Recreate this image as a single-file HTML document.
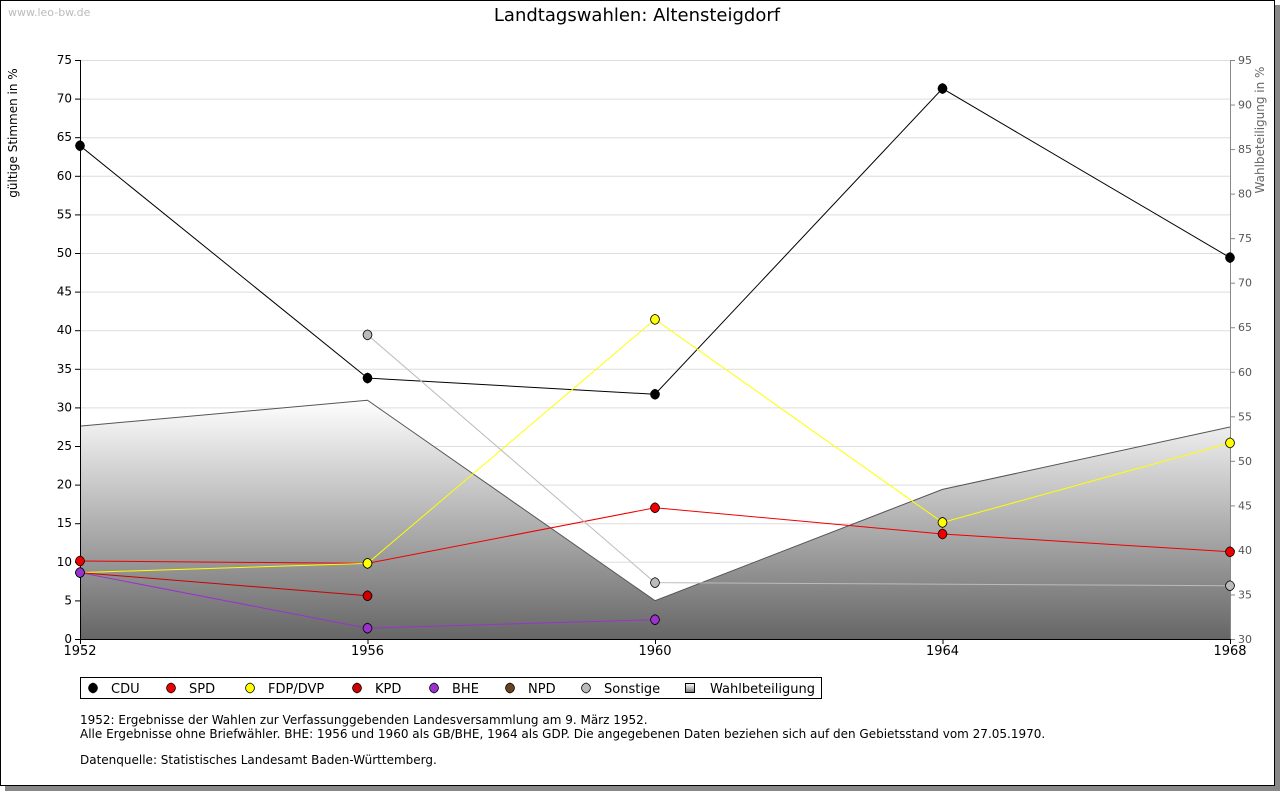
<!DOCTYPE html>
<html><head><meta charset="utf-8"><style>
body{margin:0;background:#fff;font-family:"DejaVu Sans","Liberation Sans",sans-serif;}
svg text{font-family:"DejaVu Sans","Liberation Sans",sans-serif;}
</style></head><body>
<svg id="c" width="1280" height="791" xmlns="http://www.w3.org/2000/svg">
<defs><linearGradient id="g" x1="0" y1="0" x2="0" y2="1"><stop offset="0" stop-color="#ffffff"/><stop offset="1" stop-color="#666"/></linearGradient>
<linearGradient id="lg" x1="0" y1="0" x2="0" y2="1"><stop offset="0" stop-color="#fff"/><stop offset="1" stop-color="#777"/></linearGradient></defs>
<rect x="5" y="5" width="1275" height="786" fill="#888"/>
<rect x="0.5" y="0.5" width="1274" height="785" fill="#fff" stroke="#000"/>
<text x="8" y="16" font-size="11" fill="#bbb">www.leo-bw.de</text>
<text x="637" y="21" font-size="18" text-anchor="middle">Landtagswahlen: Altensteigdorf</text>
<text transform="translate(17,133) rotate(-90)" font-size="12" text-anchor="middle">gültige Stimmen in %</text>
<text transform="translate(1264,130) rotate(-90)" font-size="12" fill="#666" text-anchor="middle">Wahlbeteiligung in %</text>
<g id="plot"></g>
<rect x="80.5" y="677.5" width="741" height="21" fill="#fff" stroke="#000"/>
<g id="legend"></g>
<text x="80" y="724" font-size="12">1952: Ergebnisse der Wahlen zur Verfassunggebenden Landesversammlung am 9. März 1952.</text>
<text x="80" y="738" font-size="12">Alle Ergebnisse ohne Briefwähler. BHE: 1956 und 1960 als GB/BHE, 1964 als GDP. Die angegebenen Daten beziehen sich auf den Gebietsstand vom 27.05.1970.</text>
<text x="80" y="764" font-size="12">Datenquelle: Statistisches Landesamt Baden-Württemberg.</text>
</svg>
<script>
const years=[1952,1956,1960,1964,1968];
const leftTicks=[0,5,10,15,20,25,30,35,40,45,50,55,60,65,70,75];
const rightTicks=[30,35,40,45,50,55,60,65,70,75,80,85,90,95];
const turnout=[53.9,56.8,34.3,46.8,53.8];
const cdu=[63.9,33.8,31.7,71.3,49.4];
const spd=[10.1,9.8,17.0,13.6,11.3];
const fdp=[8.6,9.8,41.4,15.1,25.4];
const kpd=[8.6,5.6,null,null,null];
const bhe=[8.6,1.4,2.5,null,null];
const npd=[null,null,null,null,null];
const sonst=[null,39.4,7.3,null,6.9];
const series=[["CDU",cdu,"#000"],["SPD",spd,"#e00"],["FDP/DVP",fdp,"#ff0"],["KPD",kpd,"#c00"],["BHE",bhe,"#93c"],["NPD",npd,"#642"],["Sonstige",sonst,"#bbb"]];
const X0=80,X1=1230,Y0=639,Y1=60;
const x=y=>X0+(y-1952)/(1968-1952)*(X1-X0);
const yl=v=>Y0-v/75*(Y0-Y1);
const yr=v=>Y0-(v-30)/65*(Y0-Y1);
const NS="http://www.w3.org/2000/svg";
const plot=document.getElementById('plot');
function mk(t,a,p){const e=document.createElementNS(NS,t);for(const k in a)e.setAttribute(k,a[k]);(p||plot).appendChild(e);return e;}
function marker(cx,cy,c,p){return mk('path',{d:`M${cx},${cy-5} Q${cx+4},${cy-4} ${cx+4.5},${cy} Q${cx+4},${cy+4} ${cx},${cy+5} Q${cx-4},${cy+4} ${cx-4.5},${cy} Q${cx-4},${cy-4} ${cx},${cy-5}Z`,fill:c,stroke:'#000','stroke-width':.8},p);}
leftTicks.forEach(v=>{
 const l=mk('line',{x1:X0,x2:X1,y1:yl(v)+.5,y2:yl(v)+.5,stroke:'#ddd'});
 
 
 mk('line',{x1:X0-5,x2:X0,y1:yl(v)+.5,y2:yl(v)+.5,stroke:'#000'});
 const t=mk('text',{x:X0-8,y:yl(v)+4,'font-size':12,'text-anchor':'end'});t.textContent=v;
 
 
});
rightTicks.forEach(v=>{
 mk('line',{x1:X1,x2:X1+5,y1:yr(v)+.5,y2:yr(v)+.5,stroke:'#888'});
 const t=mk('text',{x:X1+8,y:yr(v)+4,'font-size':11,fill:'#555'});t.textContent=v;
 
 
});
let d='M'+X0+','+Y0;years.forEach((y,i)=>d+=' L'+x(y)+','+yr(turnout[i]));d+=' L'+X1+','+Y0+'Z';
const area=mk('path',{d:d,fill:'url(#g)',stroke:'none'});


let dl='';years.forEach((y,i)=>dl+=(i?' L':'M')+x(y)+','+yr(turnout[i]));
mk('path',{d:dl,fill:'none',stroke:'#555'});
mk('line',{x1:X0+.5,x2:X0+.5,y1:Y1,y2:Y0+5,stroke:'#000'});
mk('line',{x1:X1+.5,x2:X1+.5,y1:Y1,y2:Y0,stroke:'#888'});
mk('line',{x1:X0,x2:X1,y1:Y0+.5,y2:Y0+.5,stroke:'#000'});
years.forEach(y=>{mk('line',{x1:x(y)+.5,x2:x(y)+.5,y1:Y0,y2:Y0+5,stroke:'#000'});
 const t=mk('text',{x:x(y),y:Y0+16,'font-size':13,'text-anchor':'middle'});t.textContent=y;
 
 });
series.forEach(([n,vals,c])=>{
 let p='';vals.forEach((v,i)=>{if(v==null)return;p+=(p?' L':'M')+x(years[i])+','+yl(v);});
 if(p){const l=mk('path',{d:p,fill:'none',stroke:c,'stroke-width':1});
 
 }
});
series.forEach(([n,vals,c])=>{
 vals.forEach((v,i)=>{if(v==null)return;
 const m=marker(x(years[i]),yl(v),c);
 
 });
});
const leg=document.getElementById('legend');
const lx=[93,171,250,357,434,510,586,690];
series.forEach(([n,v,c],i)=>{const cx=lx[i],cy=688;
 marker(cx,cy,c,leg);
 const t=mk('text',{x:cx+18,y:cy+5,'font-size':13},leg);t.textContent=n;
 
 });
mk('rect',{x:lx[7]-4.5,y:683.5,width:9,height:9,fill:'url(#lg)',stroke:'#000'},leg);
const t=mk('text',{x:lx[7]+20,y:693,'font-size':13},leg);t.textContent='Wahlbeteiligung';


</script>
</body></html>
